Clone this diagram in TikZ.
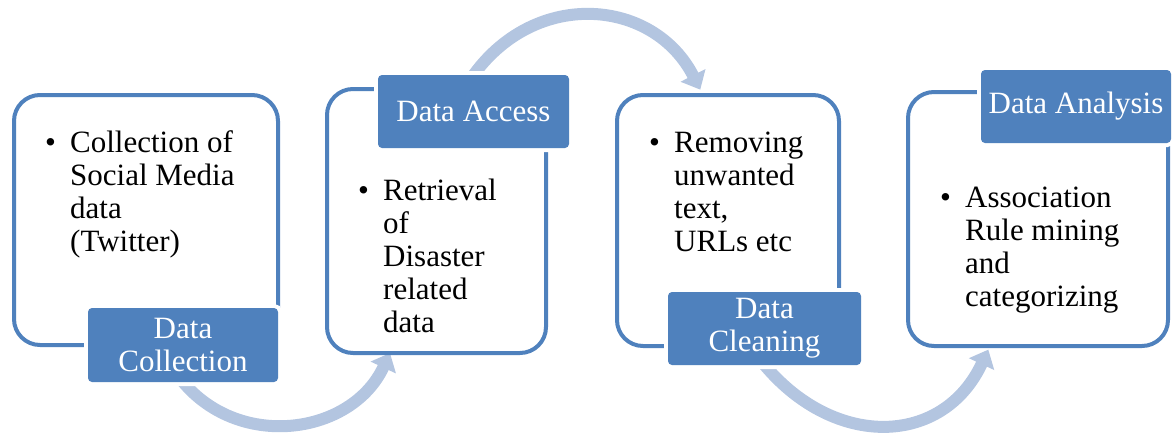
\documentclass[tikz,border=0pt]{standalone}
\usepackage{fontspec}
\setmainfont{Liberation Serif}
\usepackage{xcolor}
\usepackage{tikz}
\usetikzlibrary{arrows.meta,positioning,calc,backgrounds}

\definecolor{accent}{HTML}{4F81BD}
\definecolor{flowblue}{HTML}{B3C5E0}

\newcommand{\bulleted}[1]{\makebox[25pt][l]{\textbullet}\begin{tabular}[t]{@{}l@{}}#1\end{tabular}}

\tikzset{
    stagebox/.style={draw=accent, line width=4pt, fill=white, rounded corners=26pt, outer sep=0pt, inner sep=0pt},
    stagelab/.style={fill=accent, rounded corners=4pt, outer sep=0pt, inner sep=0pt,
        preaction={draw=white, line width=8pt}, text=white, align=center,
        font=\fontsize{31}{33}\selectfont},
    itemtext/.style={anchor=base west, inner sep=0pt, font=\fontsize{31}{33}\selectfont},
    flow/.style={draw=flowblue, line width=12pt, -{Triangle[width=27pt,length=16pt]}}
}

\begin{document}
\begin{tikzpicture}[x=1pt,y=1pt]
    \useasboundingbox (0,0) rectangle (1176,-432);

    % Data Collection
    \node[stagebox, minimum width=264pt, minimum height=250pt] (box1) at (146,-220) {};
    \node[itemtext] (txt1) at ($(box1.north west)+(31,-57)$) {\bulleted{Collection of\\Social Media\\data\\(Twitter)}};
    \node[stagelab, minimum width=190pt, minimum height=74pt] (lab1) at (183,-345) {Data\\Collection};

    % Data Access
    \node[stagebox, minimum width=219pt, minimum height=264pt] (box2) at (436.5,-221) {};
    \node[itemtext] (txt2) at ($(box2.north west)+(31,-111)$) {\bulleted{Retrieval\\of\\Disaster\\related\\data}};
    \node[stagelab, minimum width=191pt, minimum height=73pt] (lab2) at (473.5,-111.5) {Data Access};

    % Data Cleaning
    \node[stagebox, minimum width=222pt, minimum height=251pt] (box3) at (728,-220.5) {};
    \node[itemtext] (txt3) at ($(box3.north west)+(32,-57)$) {\bulleted{Removing\\unwanted\\text,\\URLs etc}};
    \node[stagelab, minimum width=193pt, minimum height=73pt] (lab3) at (764.5,-328.5) {Data\\Cleaning};

    % Data Analysis
    \node[stagebox, minimum width=260pt, minimum height=254pt] (box4) at (1038,-219) {};
    \node[itemtext] (txt4) at ($(box4.north west)+(32,-115)$) {\bulleted{Association\\Rule mining\\and\\categorizing}};
    \node[stagelab, minimum width=190pt, minimum height=73pt] (lab4) at (1076,-106.5) {Data Analysis};

    % arrows behind the boxes
    \begin{scope}[on background layer]
        \draw[flow] (lab1.south) to[out=-50,in=-115,looseness=1.1] ([xshift=63pt]box2.south west);
        \draw[flow, shorten >=6pt] (lab2.north) to[out=54,in=117,looseness=1.2] ([xshift=86pt]box3.north west);
        \draw[flow, shorten >=4pt] (lab3.south) to[out=-50,in=-115,looseness=1.25] ([xshift=82pt]box4.south west);
    \end{scope}
\end{tikzpicture}
\end{document}
